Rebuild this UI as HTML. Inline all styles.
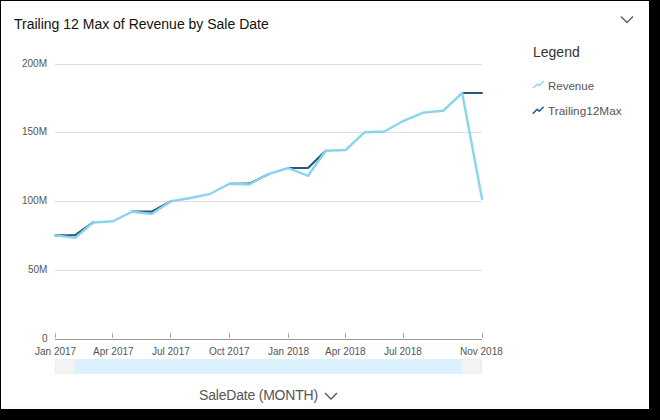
<!DOCTYPE html>
<html><head><meta charset="utf-8">
<style>
html,body{margin:0;padding:0;width:660px;height:420px;overflow:hidden;background:#000;}
body{font-family:"Liberation Sans",sans-serif;position:relative;}
.card{position:absolute;left:1px;top:1px;width:648px;height:408px;background:#fff;}
.t{position:absolute;white-space:nowrap;line-height:1;}
svg{position:absolute;left:0;top:0;}
</style></head>
<body>
<div class="card"></div>
<div style="position:absolute;left:3px;top:405px;width:644px;height:3px;background:#fcfcfc;"></div>
<div class="t" style="left:14px;top:16.5px;font-size:14px;color:#111;">Trailing 12 Max of Revenue by Sale Date</div>

<div class="t" style="left:22px;top:59px;font-size:10px;color:#555;">200M</div>
<div class="t" style="left:22px;top:127px;font-size:10px;color:#555;">150M</div>
<div class="t" style="left:22px;top:196px;font-size:10px;color:#555;">100M</div>
<div class="t" style="left:28px;top:265px;font-size:10px;color:#555;">50M</div>
<div class="t" style="left:42px;top:334px;font-size:10px;color:#555;">0</div>

<div class="t" style="left:35px;top:347px;font-size:10px;color:#555;">Jan 2017</div>
<div class="t" style="left:93px;top:347px;font-size:10px;color:#555;">Apr 2017</div>
<div class="t" style="left:152px;top:347px;font-size:10px;color:#555;">Jul 2017</div>
<div class="t" style="left:209px;top:347px;font-size:10px;color:#555;">Oct 2017</div>
<div class="t" style="left:268px;top:347px;font-size:10px;color:#555;">Jan 2018</div>
<div class="t" style="left:325px;top:347px;font-size:10px;color:#555;">Apr 2018</div>
<div class="t" style="left:384px;top:347px;font-size:10px;color:#555;">Jul 2018</div>
<div class="t" style="left:460px;top:347px;font-size:10px;color:#555;">Nov 2018</div>

<div class="t" style="left:199px;top:388px;font-size:14px;letter-spacing:-0.2px;color:#555;">SaleDate (MONTH)</div>

<div class="t" style="left:533px;top:45px;font-size:14px;color:#333;">Legend</div>
<div class="t" style="left:548px;top:81px;font-size:11.5px;color:#555;">Revenue</div>
<div class="t" style="left:548px;top:106px;font-size:11.8px;color:#555;">Trailing12Max</div>

<svg width="660" height="420" viewBox="0 0 660 420">
  <g stroke="#e0e0e0" stroke-width="1" fill="none">
    <line x1="55" y1="64.5" x2="482" y2="64.5"/>
    <line x1="55" y1="132.5" x2="482" y2="132.5"/>
    <line x1="55" y1="201.5" x2="482" y2="201.5"/>
    <line x1="55" y1="270.5" x2="482" y2="270.5"/>
  </g>
  <g stroke="#9a9a9a" stroke-width="1" fill="none">
    <line x1="55" y1="339.5" x2="482" y2="339.5"/>
  </g>
  <g stroke="#a8a8a8" stroke-width="1" fill="none">
    <line x1="55.5" y1="333" x2="55.5" y2="338"/>
    <line x1="112.5" y1="333" x2="112.5" y2="338"/>
    <line x1="170.5" y1="333" x2="170.5" y2="338"/>
    <line x1="229.5" y1="333" x2="229.5" y2="338"/>
    <line x1="288.5" y1="333" x2="288.5" y2="338"/>
    <line x1="345.5" y1="333" x2="345.5" y2="338"/>
    <line x1="403.5" y1="333" x2="403.5" y2="338"/>
    <line x1="482.5" y1="333" x2="482.5" y2="338"/>
  </g>
  <rect x="55.5" y="359.5" width="426" height="14" fill="#f3f3f3" stroke="#ededed" stroke-width="1"/>
  <rect x="75" y="359" width="387" height="15" fill="#dbf1fd"/>
  <path id="dark" fill="none" stroke="#235a7a" stroke-width="2.2" stroke-linejoin="round" stroke-linecap="round" d="M55.5,235.4 L75.3,235.2 L93.1,222.5 M132.0,211.7 L151.8,211.7 L170.9,201.2 M229.5,183.8 L249.3,183.7 L268.4,174.2 M288.2,168.0 L308.0,168.0 L325.8,150.8 M462.2,93.0 L482.0,93.0"/>
  <polyline id="rev" fill="none" stroke="#8ad4ee" stroke-width="2.4" stroke-linejoin="round" stroke-linecap="round"
    points="55.5,235.4 75.3,237.9 93.1,222.5 112.9,221.2 132.0,211.7 151.8,214.0 170.9,201.2 190.7,198.0 210.4,193.8 229.5,183.8 249.3,184.5 268.4,174.2 288.2,168.0 308.0,175.8 325.8,150.8 345.6,150.0 364.7,132.2 384.5,131.5 403.6,120.8 423.3,112.6 443.1,110.8 462.2,93.0 482.0,198.7"/>
  <polyline fill="none" stroke="#5a5a5a" stroke-width="1.4" points="621,16.5 627,22.5 633,16.5"/>
  <polyline fill="none" stroke="#555" stroke-width="1.3" points="325,393 331,399 337,393"/>
  <polyline fill="none" stroke="#92d5ee" stroke-width="1.5" stroke-linejoin="round" stroke-linecap="round" points="533.4,87.8 537.4,84.0 539.4,85.6 543.3,81.6"/>
  <polyline fill="none" stroke="#235a7a" stroke-width="1.5" stroke-linejoin="round" stroke-linecap="round" points="533.2,113.3 537.2,109.3 539.2,111.3 543.2,107.3"/>
</svg>
</body></html>
